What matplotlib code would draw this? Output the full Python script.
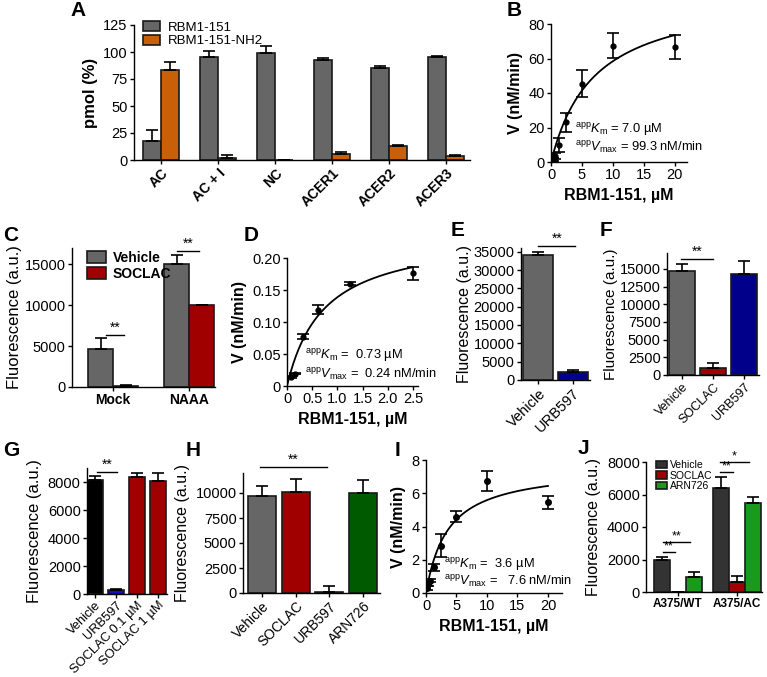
import matplotlib
matplotlib.use("Agg")
import matplotlib.pyplot as plt
import numpy as np

plt.rcParams['font.family'] = ['Liberation Sans', 'DejaVu Sans']
plt.rcParams['mathtext.fontset'] = 'custom'
plt.rcParams['mathtext.rm'] = 'Liberation Sans'
plt.rcParams['mathtext.it'] = 'Liberation Sans:italic'
plt.rcParams['axes.linewidth'] = 1.0

# ---- data ----
# A
a_groups = ["AC", "AC + I", "NC", "ACER1", "ACER2", "ACER3"]
a_rbm = [18, 95, 99, 93, 85, 95]
a_rbm_err = [10, 6, 7, 1, 2, 1]
a_nh2 = [83, 2, 0, 6, 13, 4]
a_nh2_err = [8, 3, 0, 1, 1, 1]

# B
b_conc = [0.156, 0.3125, 0.625, 1.25, 2.5, 5, 10, 20]
b_v = [0.5, 1.5, 3.5, 10, 23, 45.5, 67.5, 66.5]
b_err = [0.5, 1, 2, 4, 5.5, 8, 7, 7]
b_km, b_vmax = 7.0, 99.3

# C
c_groups = ["Mock", "NAAA"]
c_vehicle = [4600, 15000]
c_vehicle_err = [1400, 1200]
c_soclac = [150, 10000]
c_soclac_err = [100, 80]

# D
d_conc = [0.078, 0.156, 0.3125, 0.625, 1.25, 2.5]
d_v = [0.014, 0.019, 0.077, 0.119, 0.160, 0.176]
d_err = [0.001, 0.001, 0.004, 0.007, 0.002, 0.010]
d_km, d_vmax = 0.73, 0.24

# E
e_labels = ["Vehicle", "URB597"]
e_vals = [34200, 2300]
e_err = [600, 300]

# F
f_labels = ["Vehicle", "SOCLAC", "URB597"]
f_vals = [14700, 1000, 14300]
f_err = [1000, 700, 1800]

# G
g_labels = ["Vehicle", "URB597", "SOCLAC 0.1 µM", "SOCLAC 1 µM"]
g_vals = [8150, 300, 8350, 8100]
g_err = [300, 50, 300, 550]

# H
h_labels = ["Vehicle", "SOCLAC", "URB597", "ARN726"]
h_vals = [9700, 10100, 100, 10000]
h_err = [1050, 1300, 650, 1300]

# I
i_conc = [0.156, 0.3125, 0.625, 1.25, 2.5, 5, 10, 20]
i_v = [0.3, 0.55, 0.75, 1.55, 2.85, 4.6, 6.75, 5.45]
i_err = [0.1, 0.1, 0.1, 0.2, 0.7, 0.35, 0.6, 0.4]
i_km, i_vmax = 3.6, 7.6

# J
j_groups = ["A375/WT", "A375/AC"]
j_vehicle = [2000, 6400]
j_vehicle_err = [150, 650]
j_soclac = [30, 600]
j_soclac_err = [0, 400]
j_arn = [950, 5450]
j_arn_err = [280, 400]

GRAY = "#666666"
ORANGE = "#c8600a"
RED = "#a00000"
NAVY = "#00008b"
BLUE = "#1010c0"
DGREEN = "#005a00"
GREEN = "#1a9a1a"

TICK = 10.5
LAB = 11.5
FLU = 11.5
NOTE = 9.3

W, H = 767, 677
fig = plt.figure(figsize=(W / 100, H / 100), dpi=100)


def box(l, t, r, b):
    return fig.add_axes([l / W, 1 - b / H, (r - l) / W, (b - t) / H])


def style(ax, size=TICK):
    for s in ("top", "right"):
        ax.spines[s].set_visible(False)
    ax.tick_params(direction="out", length=3, width=1, labelsize=size, pad=1.5)


def up(err):
    return [np.zeros(len(err)), err]


def sig(ax, x0, x1, y, txt, size=10):
    ax.plot([x0, x1], [y, y], color="k", lw=1, clip_on=False)
    ax.text((x0 + x1) / 2, y, txt, ha="center", va="bottom", fontsize=size,
            clip_on=False)


def letter(x, y, s):
    fig.text(x / W, 1 - y / H, s, fontsize=15, fontweight="bold",
             ha="left", va="center")


def rot(ax, labels, size=TICK):
    ax.set_xticks(range(len(labels)))
    ax.set_xticklabels(labels, rotation=45, ha="right", rotation_mode="anchor",
                       fontsize=size)


def note(ax, x, y, s):
    ax.text(x, y, s, fontsize=NOTE, va="center")


ek = dict(ecolor="k", elinewidth=1.2, capsize=4, capthick=1.2)
bk = dict(edgecolor="#1a1a1a", linewidth=1.2)

# ---------------- A ----------------
ax = box(134, 25, 470, 160)
style(ax)
x = np.arange(len(a_groups))
w = 0.32
ax.bar(x - w / 2, a_rbm, w, color=GRAY, yerr=up(a_rbm_err), error_kw=ek,
       label="RBM1-151", **bk)
ax.bar(x + w / 2, a_nh2, w, color=ORANGE, yerr=up(a_nh2_err), error_kw=ek,
       label="RBM1-151-NH2", **bk)
ax.set_xlim(-0.47, 5.42)
ax.set_ylim(0, 125)
ax.set_yticks([0, 25, 50, 75, 100, 125])
rot(ax, a_groups, size=10)
for t in ax.get_xticklabels():
    t.set_fontweight("bold")
ax.set_ylabel("pmol (%)", fontsize=12, fontweight="bold")
ax.legend(loc="upper left", bbox_to_anchor=(138 / W, 1 - 16 / H),
          bbox_transform=fig.transFigure, frameon=False, fontsize=9.5,
          handlelength=1.3, handleheight=0.8, labelspacing=0.05,
          borderaxespad=0, handletextpad=0.6)

# ---------------- B ----------------
ax = box(551, 24, 687, 162)
style(ax)
xx = np.linspace(0, 20, 200)
ax.plot(xx, b_vmax * xx / (b_km + xx), color="k", lw=1.3)
ax.errorbar(b_conc, b_v, yerr=b_err, fmt="o", ms=3.5, color="k", **ek)
ax.set_xlim(0, 22)
ax.set_ylim(0, 80)
ax.set_xticks([0, 5, 10, 15, 20])
ax.set_yticks([0, 20, 40, 60, 80])
ax.set_xlabel("RBM1-151, µM", fontsize=LAB, fontweight="bold")
ax.set_ylabel("V (nM/min)", fontsize=LAB, fontweight="bold")
note(ax, 3.9, 19, r"$^{\rm app}K_{\rm m}$ = 7.0 µM")
note(ax, 3.9, 8, r"$^{\rm app}V_{\rm max}$ = 99.3 nM/min")

# ---------------- C ----------------
ax = box(72, 248, 215, 387)
style(ax)
x = np.arange(len(c_groups))
w = 0.33
ax.bar(x - w / 2, c_vehicle, w, color=GRAY, yerr=up(c_vehicle_err),
       error_kw=ek, label="Vehicle", **bk)
ax.bar(x + w / 2, c_soclac, w, color=RED, yerr=up(c_soclac_err),
       error_kw=ek, label="SOCLAC", **bk)
ax.set_xlim(-0.54, 1.34)
ax.set_ylim(0, 17000)
ax.set_yticks([0, 5000, 10000, 15000])
ax.set_xticks(x)
ax.set_xticklabels(c_groups, fontsize=10, fontweight="bold")
ax.set_ylabel("Fluorescence (a.u.)", fontsize=FLU + 0.5, labelpad=2)
sig(ax, -0.09, 0.14, 6340, "**")
sig(ax, 0.84, 1.13, 16600, "**")
ax.legend(loc="upper left", bbox_to_anchor=(81 / W, 1 - 245 / H),
          bbox_transform=fig.transFigure, frameon=False,
          prop={"size": 10, "weight": "bold"}, handlelength=1.4,
          handleheight=0.9, labelspacing=0.15, borderaxespad=0,
          handletextpad=0.5)

# ---------------- D ----------------
ax = box(287, 258, 418, 386)
style(ax)
xx = np.linspace(0, 2.5, 200)
ax.plot(xx, d_vmax * xx / (d_km + xx), color="k", lw=1.3)
ax.errorbar(d_conc, d_v, yerr=d_err, fmt="o", ms=3.5, color="k", **ek)
ax.set_xlim(0, 2.6)
ax.set_ylim(0, 0.2)
ax.set_xticks([0, 0.5, 1.0, 1.5, 2.0, 2.5])
ax.set_xticklabels(["0", "0.5", "1.0", "1.5", "2.0", "2.5"])
ax.set_yticks([0, 0.05, 0.10, 0.15, 0.20])
ax.set_yticklabels(["0", "0.05", "0.10", "0.15", "0.20"])
ax.set_xlabel("RBM1-151, µM", fontsize=LAB, fontweight="bold")
ax.set_ylabel("V (nM/min)", fontsize=LAB, fontweight="bold")
note(ax, 0.36, 0.048, r"$^{\rm app}K_{\rm m}$ =  0.73 µM")
note(ax, 0.36, 0.017, r"$^{\rm app}V_{\rm max}$ =  0.24 nM/min")

# ---------------- E ----------------
ax = box(521, 248, 590, 380)
style(ax)
ax.bar(range(2), e_vals, 0.88, color=[GRAY, NAVY], yerr=up(e_err),
       error_kw=ek, **bk)
ax.set_xlim(-0.5, 1.5)
ax.set_ylim(0, 36000)
ax.set_yticks(range(0, 35001, 5000))
rot(ax, e_labels)
ax.set_ylabel("Fluorescence (a.u.)", fontsize=FLU, labelpad=1)
sig(ax, 0.0, 1.07, 36600, "**")

# ---------------- F ----------------
ax = box(667, 253, 759, 375)
style(ax)
ax.bar(range(3), f_vals, 0.85, color=[GRAY, RED, NAVY], yerr=up(f_err),
       error_kw=ek, **bk)
ax.set_xlim(-0.5, 2.5)
ax.set_ylim(0, 17250)
ax.set_yticks(range(0, 15001, 2500))
rot(ax, f_labels, size=9)
ax.set_ylabel("Fluorescence (a.u.)", fontsize=FLU - 0.5, labelpad=1)
sig(ax, -0.03, 1.01, 16380, "**")

# ---------------- G ----------------
ax = box(87, 468, 167, 594)
style(ax)
ax.bar(range(4), g_vals, 0.75, color=["#000000", BLUE, RED, RED],
       yerr=up(g_err), error_kw=ek, **bk)
ax.set_xlim(-0.38, 3.43)
ax.set_ylim(0, 9000)
ax.set_yticks(range(0, 8001, 2000))
rot(ax, g_labels, size=9.3)
ax.tick_params(axis="x", pad=1)
ax.set_ylabel("Fluorescence (a.u.)", fontsize=FLU + 0.5)
sig(ax, 0.1, 1.05, 8700, "**")

# ---------------- H ----------------
ax = box(243, 473, 380, 593)
style(ax)
ax.bar(range(4), h_vals, 0.83, color=[GRAY, RED, "white", DGREEN],
       yerr=up(h_err), error_kw=ek, **bk)
ax.set_xlim(-0.56, 3.5)
ax.set_ylim(0, 12000)
ax.set_yticks(range(0, 10001, 2500))
rot(ax, h_labels, size=10)
ax.set_ylabel("Fluorescence (a.u.)", fontsize=FLU)
sig(ax, -0.06, 1.93, 12600, "**")

# ---------------- I ----------------
ax = box(426, 460, 562, 593)
style(ax)
xx = np.linspace(0, 20, 200)
ax.plot(xx, i_vmax * xx / (i_km + xx), color="k", lw=1.3)
ax.errorbar(i_conc, i_v, yerr=i_err, fmt="o", ms=4, color="k", **ek)
ax.set_xlim(0, 22.3)
ax.set_ylim(0, 8)
ax.set_xticks([0, 5, 10, 15, 20])
ax.set_yticks([0, 2, 4, 6, 8])
ax.set_xlabel("RBM1-151, µM", fontsize=LAB, fontweight="bold")
ax.set_ylabel("V (nM/min)", fontsize=LAB, fontweight="bold")
note(ax, 3.0, 1.7, r"$^{\rm app}K_{\rm m}$ =  3.6 µM")
note(ax, 3.0, 0.67, r"$^{\rm app}V_{\rm max}$ =   7.6 nM/min")

# ---------------- J ----------------
ax = box(646, 462, 762, 592)
style(ax)
x = np.arange(len(j_groups))
w = 0.27
ax.bar(x - w, j_vehicle, w, color="#333333", yerr=up(j_vehicle_err),
       error_kw=ek, label="Vehicle", **bk)
ax.bar(x, j_soclac, w, color=RED, yerr=up(j_soclac_err), error_kw=ek,
       label="SOCLAC", **bk)
ax.bar(x + w, j_arn, w, color=GREEN, yerr=up(j_arn_err), error_kw=ek,
       label="ARN726", **bk)
ax.set_xlim(-0.54, 1.42)
ax.set_ylim(0, 8000)
ax.set_yticks(range(0, 8001, 2000))
ax.set_xticks(x)
ax.set_xticklabels(j_groups, fontsize=8.5, fontweight="bold")
ax.set_ylabel("Fluorescence (a.u.)", fontsize=FLU)
sig(ax, -0.25, -0.05, 2460, "**", size=9)
sig(ax, -0.25, 0.2, 3080, "**", size=9)
sig(ax, 0.71, 0.93, 7380, "**", size=9)
sig(ax, 0.71, 1.2, 8000, "*", size=9)
ax.legend(loc="upper left", bbox_to_anchor=(652 / W, 1 - 456 / H),
          bbox_transform=fig.transFigure, frameon=False, fontsize=7.5,
          handlelength=1.0, handleheight=0.75, labelspacing=0.05,
          borderaxespad=0, handletextpad=0.3)

# panel letters
letter(70, 10, "A")
letter(507, 10, "B")
letter(3, 235, "C")
letter(244, 235, "D")
letter(451, 231, "E")
letter(600, 231, "F")
letter(3, 450, "G")
letter(186, 450, "H")
letter(395, 450, "I")
letter(578, 448, "J")

fig.savefig("out.png", dpi=100)
